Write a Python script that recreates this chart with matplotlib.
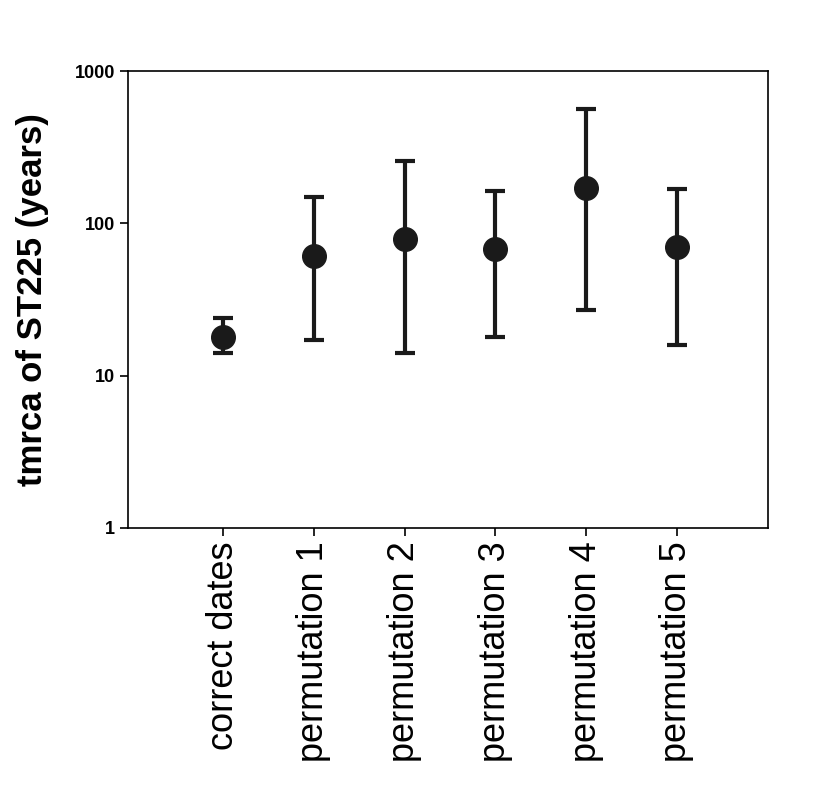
import matplotlib
matplotlib.use("Agg")
import matplotlib.pyplot as plt
from matplotlib.ticker import FixedLocator, NullLocator

labels = ["correct dates", "permutation 1", "permutation 2",
          "permutation 3", "permutation 4", "permutation 5"]
tmrca = [18.0, 61, 79, 68, 170, 70]
upper = [24.0, 149, 258, 163, 564, 168]
lower = [14.0, 17.1, 14.0, 18.0, 27, 16]

plt.rcParams['font.family'] = ['Liberation Sans', 'DejaVu Sans']
fig = plt.figure(figsize=(8.29, 8.0), dpi=100)
ax = fig.add_axes([0.1544, 0.34, 0.7716, 0.571])

x = list(range(1, len(labels) + 1))
yerr = [[t - l for t, l in zip(tmrca, lower)], [u - t for t, u in zip(tmrca, upper)]]
ax.errorbar(x, tmrca, yerr=yerr, fmt='o', color='#1a1a1a', ms=17,
            elinewidth=3, capsize=7, capthick=3)

ax.set_yscale('log')
ax.set_ylim(1, 1000)
ax.set_xlim(-0.05, 7)
ax.yaxis.set_major_locator(FixedLocator([1, 10, 100, 1000]))
ax.yaxis.set_minor_locator(NullLocator())
ax.set_yticklabels(['1', '10', '100', '1000'], fontsize=13, fontweight='bold')
ax.set_xticks(x)
ax.set_xticklabels(labels, rotation=90, fontsize=26)
ax.tick_params(axis='both', direction='out', length=6, width=1.2)
ax.set_ylabel('tmrca of ST225 (years)', fontsize=25, fontweight='bold', labelpad=18)
for s in ax.spines.values():
    s.set_linewidth(1.2)

fig.savefig('out.png', dpi=100)
